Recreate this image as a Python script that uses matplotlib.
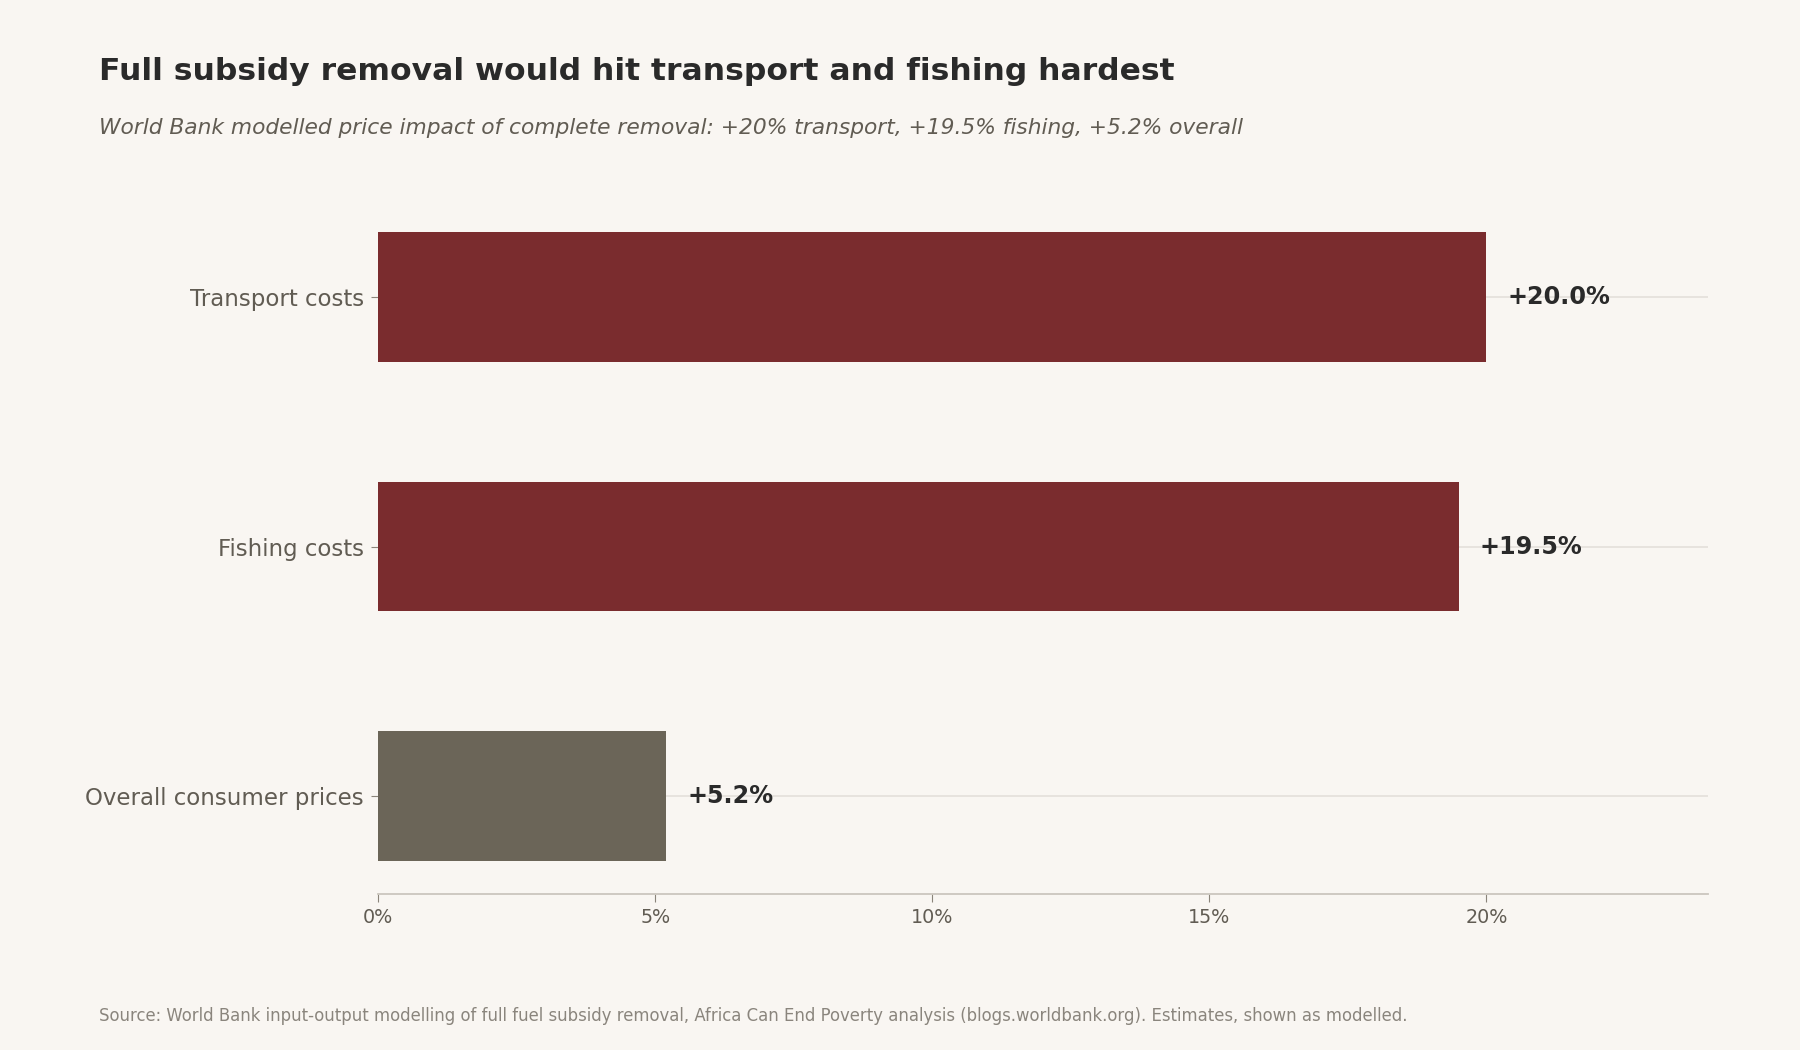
import matplotlib
matplotlib.use("Agg")
import matplotlib.pyplot as plt
from matplotlib.ticker import FuncFormatter

categories = ["Transport costs", "Fishing costs", "Overall consumer prices"]
values = [20.0, 19.5, 5.2]
bar_colors = ["#7a2c2e", "#7a2c2e", "#6b6558"]
xticks = [0, 5, 10, 15, 20]

bg = "#f9f6f2"
fig = plt.figure(figsize=(18, 10.5), dpi=100, facecolor=bg)
ax = fig.add_axes([0.21, 0.149, 0.739, 0.661], facecolor=bg)

ypos = list(range(len(categories)))
ax.barh(ypos, values, height=0.52, color=bar_colors, zorder=3)
for y, v in zip(ypos, values):
    ax.text(v + 0.38, y, "+{:.1f}%".format(v), va="center", ha="left",
            fontsize=17.2, fontweight="bold", color="#2a2a2a", zorder=4)

ax.set_yticks(ypos)
ax.set_yticklabels(categories)
ax.set_ylim(2.39, -0.39)
ax.set_xlim(0, 24)
ax.set_xticks(xticks)
ax.xaxis.set_major_formatter(FuncFormatter(lambda x, p: "{:.0f}%".format(x)))

ax.grid(axis="y", color="#e4e0da", linewidth=1.2, zorder=0)
ax.grid(axis="x", visible=False)
for s in ["top", "right", "left"]:
    ax.spines[s].set_visible(False)
ax.spines["bottom"].set_color("#cbc6be")
ax.spines["bottom"].set_linewidth(1.3)

ax.tick_params(axis="y", labelsize=16.5, labelcolor="#615c53", color="#8a847a",
               length=5, pad=5)
ax.tick_params(axis="x", labelsize=13.8, labelcolor="#615c53", color="#8a847a",
               length=6, pad=4.5)

fig.text(0.055, 0.932, "Full subsidy removal would hit transport and fishing hardest",
         fontsize=22.6, fontweight="bold", color="#2a2a2a", va="center")
fig.text(0.055, 0.878,
         "World Bank modelled price impact of complete removal: +20% transport, +19.5% fishing, +5.2% overall",
         fontsize=15.7, style="italic", color="#615c53", va="center")
fig.text(0.055, 0.032,
         "Source: World Bank input-output modelling of full fuel subsidy removal, Africa Can End Poverty analysis (blogs.worldbank.org). Estimates, shown as modelled.",
         fontsize=11.9, color="#8a857d", va="center")

fig.savefig("out.png", dpi=100, facecolor=bg)
